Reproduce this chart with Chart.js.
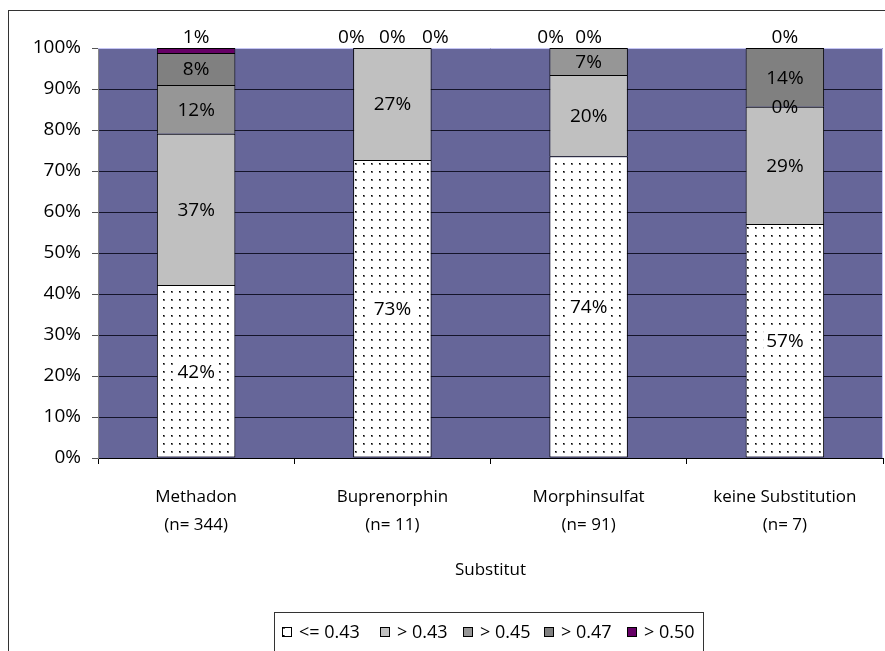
<!DOCTYPE html>
<html>
<head>
<meta charset="utf-8">
<script src="https://cdn.jsdelivr.net/npm/chart.js@4.4.1/dist/chart.umd.min.js"></script>
<style>
  html, body { margin: 0; padding: 0; background: #fff; overflow: hidden; }
  canvas { display: block; }
</style>
</head>
<body>
<canvas id="c" width="885" height="651"></canvas>
<script>
// Substitution groups and their sample sizes
const substitutes = ['Methadon', 'Buprenorphin', 'Morphinsulfat', 'keine Substitution'];
const sampleSizes = [344, 11, 91, 7];

// Share of patients per value class (percent of each group)
const seriesNames = ['<= 0.43', '> 0.43', '> 0.45', '> 0.47', '> 0.50'];
const upTo043 = [42.2, 72.7, 73.6, 57.1];
const over043 = [36.9, 27.3, 19.8, 28.6];
const over045 = [11.9, 0, 6.6, 0];
const over047 = [7.8, 0, 0, 14.3];
const over050 = [1.2, 0, 0, 0];

const axisTitle = 'Substitut';
const FONT = '"Open Sans", "DejaVu Sans", sans-serif';

const canvas = document.getElementById('c');
const ctx0 = canvas.getContext('2d');

// dotted fill for the lowest class
function dotPattern() {
  const t = document.createElement('canvas');
  t.width = 8; t.height = 8;
  const g = t.getContext('2d');
  g.fillStyle = '#ffffff';
  g.fillRect(0, 0, 8, 8);
  g.fillStyle = '#6a6a6a';
  g.fillRect(3, 3, 2, 2);
  g.fillStyle = '#000000';
  g.fillRect(3, 3, 1, 1);
  return ctx0.createPattern(t, 'repeat');
}
const dots = dotPattern();

const fills = [dots, '#c0c0c0', '#969696', '#808080', '#660066'];
const seriesValues = [upTo043, over043, over045, over047, over050];

const datasets = seriesValues.map((vals, i) => ({
  label: seriesNames[i],
  data: vals,
  backgroundColor: fills[i],
  borderColor: '#000',
  borderWidth: { top: 1, left: 1, right: 1, bottom: i === 0 ? 1 : 0 },
  borderSkipped: false,
  barPercentage: 0.4,
  categoryPercentage: 1.0
}));

// plot background, outer frame
const framePlugin = {
  id: 'frame',
  beforeDraw(chart) {
    const { ctx, chartArea: a } = chart;
    ctx.save();
    ctx.fillStyle = '#fff';
    ctx.fillRect(0, 0, chart.width, chart.height);
    ctx.strokeStyle = '#333';
    ctx.lineWidth = 1;
    ctx.strokeRect(8.5, 10.5, 1200, 1200);
    ctx.fillStyle = '#666699';
    ctx.fillRect(a.left, a.top, a.right - a.left, a.bottom - a.top);
    ctx.restore();
  },
  beforeDatasetsDraw(chart) {
    const { ctx, chartArea: a } = chart;
    ctx.save();
    ctx.strokeStyle = '#c4c4f4';
    ctx.lineWidth = 1;
    ctx.beginPath();
    ctx.moveTo(a.left, a.top + 0.5);
    ctx.lineTo(a.right - 0.5, a.top + 0.5);
    ctx.lineTo(a.right - 0.5, a.bottom);
    ctx.stroke();
    ctx.restore();
  }
};

// percentage labels on each segment
const valueLabels = {
  id: 'valueLabels',
  afterDatasetsDraw(chart) {
    const { ctx, chartArea: a } = chart;
    ctx.save();
    ctx.font = '19px ' + FONT;
    ctx.textAlign = 'center';
    ctx.textBaseline = 'middle';
    ctx.fillStyle = '#000';
    const spreads = { 1: [0], 2: [-38, 0], 3: [-41, 0, 43] };
    const above = substitutes.map(() => []);
    chart.data.datasets.forEach((ds, di) => {
      const meta = chart.getDatasetMeta(di);
      meta.data.forEach((bar, i) => {
        const v = ds.data[i];
        const txt = Math.round(v) + '%';
        const top = Math.min(bar.y, bar.base);
        if (v < 2 && top <= a.top + 1) { above[i].push(txt); return; }
        const y = (bar.y + bar.base) / 2;
        if (di === 0) {
          const w = ctx.measureText(txt).width + 6;
          ctx.fillStyle = '#fff';
          ctx.fillRect(bar.x - w / 2, y - 12, w, 25);
          ctx.fillStyle = '#000';
        }
        ctx.fillText(txt, bar.x, y + 1);
      });
    });
    const m0 = chart.getDatasetMeta(0);
    above.forEach((list, i) => {
      const x = m0.data[i].x;
      const offs = spreads[list.length] || [];
      list.forEach((t, k) => ctx.fillText(t, x + offs[k], a.top - 10));
    });
    ctx.restore();
  }
};

// boxed legend below the axis title
const legendSlots = [282, 380, 463, 544, 627];
const boxLegend = {
  id: 'boxLegend',
  afterDraw(chart) {
    const ctx = chart.ctx;
    ctx.save();
    ctx.strokeStyle = '#333';
    ctx.lineWidth = 1;
    ctx.strokeRect(274.5, 612.5, 429, 80);
    ctx.font = '18px ' + FONT;
    ctx.textBaseline = 'middle';
    ctx.textAlign = 'left';
    const cy = 632;
    chart.data.datasets.forEach((ds, i) => {
      const x = legendSlots[i];
      ctx.fillStyle = ds.backgroundColor;
      ctx.fillRect(x, cy - 5, 10, 10);
      ctx.strokeStyle = '#000';
      ctx.strokeRect(x + 0.5, cy - 4.5, 9, 9);
      ctx.fillStyle = '#000';
      ctx.fillText(ds.label, x + 17, cy + 1);
    });
    ctx.restore();
  }
};

new Chart(canvas, {
  type: 'bar',
  data: {
    labels: substitutes.map((s, i) => [s, '(n= ' + sampleSizes[i] + ')']),
    datasets
  },
  options: {
    responsive: false,
    animation: false,
    events: [],
    layout: { padding: { left: 0, top: 48, right: 2, bottom: 71 } },
    plugins: { legend: { display: false }, tooltip: { enabled: false } },
    scales: {
      x: {
        stacked: true,
        grid: {
          display: true, drawOnChartArea: false, drawTicks: true,
          tickLength: 6, color: '#000', offset: true
        },
        border: { display: true, color: '#000', width: 1 },
        ticks: {
          color: '#000', padding: 19, maxRotation: 0,
          font: { family: FONT, size: 17, lineHeight: '28px' }
        },
        title: {
          display: true, text: axisTitle, color: '#000',
          font: { family: FONT, size: 17 }, padding: { top: 0, bottom: 0 }
        },
        afterFit(scale) { scale.height = 122; }
      },
      y: {
        stacked: true,
        min: 0, max: 100,
        grid: { color: '#14142a', lineWidth: 1, tickLength: 6, tickColor: '#555', drawTicks: true },
        border: { display: true, color: '#888', width: 1 },
        ticks: {
          stepSize: 10, color: '#000', padding: 11,
          font: { family: FONT, size: 19 },
          callback: v => v + '%'
        },
        afterFit(scale) { scale.width = 98; }
      }
    }
  },
  plugins: [framePlugin, valueLabels, boxLegend]
});
</script>
</body>
</html>
